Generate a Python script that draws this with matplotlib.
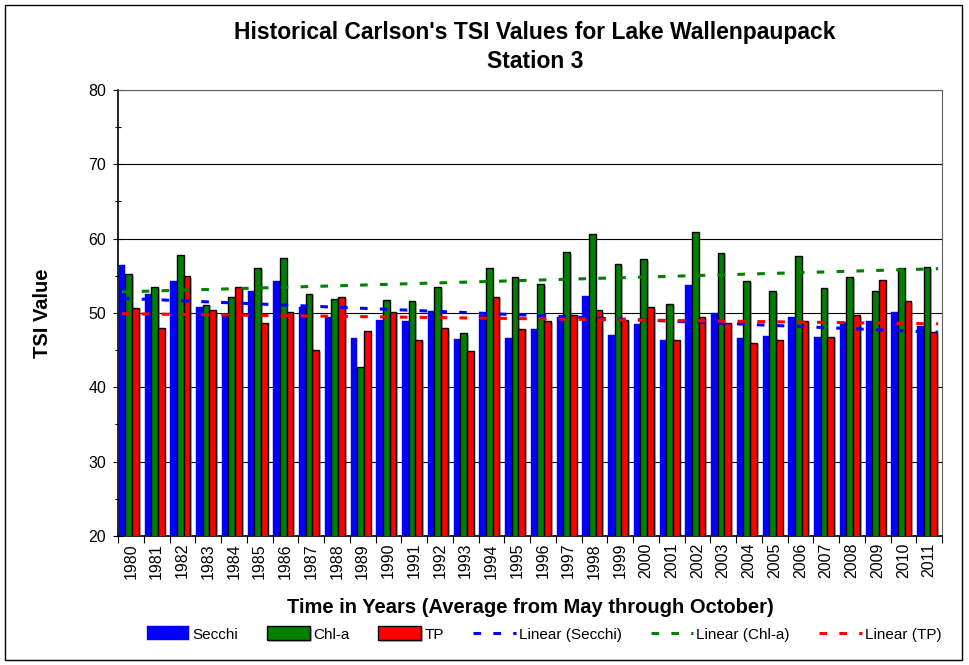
import numpy as np
import matplotlib
matplotlib.use("Agg")
import matplotlib.pyplot as plt
from matplotlib.ticker import MultipleLocator
from matplotlib.patches import Rectangle
import matplotlib.patheffects as pe

plt.rcParams['font.family'] = ['Liberation Sans', 'DejaVu Sans']

years = list(range(1980, 2012))
secchi = [56.4, 52.6, 54.3, 50.8, 49.6, 52.9, 54.3, 50.8, 49.4, 46.6, 49.0, 48.9, 50.3, 46.5, 49.7, 46.7,
          47.9, 49.4, 52.3, 47.1, 48.5, 46.4, 53.8, 50.0, 46.7, 46.9, 49.4, 46.8, 48.8, 48.9, 50.2, 48.3]
chla = [55.2, 53.5, 57.8, 51.1, 52.2, 56.1, 57.4, 52.6, 51.9, 42.8, 51.8, 51.6, 53.5, 47.3, 56.1, 54.9,
        53.9, 58.2, 60.6, 56.6, 57.2, 51.2, 60.9, 58.1, 54.3, 52.9, 57.7, 53.4, 54.8, 52.9, 56.1, 56.2]
tp = [50.7, 48.0, 55.0, 50.4, 53.5, 48.7, 50.2, 45.0, 52.1, 47.6, 50.1, 46.4, 48.0, 44.9, 52.2, 47.9,
      48.9, 49.7, 50.4, 49.0, 50.8, 46.4, 49.4, 48.7, 46.0, 46.4, 48.9, 46.8, 49.7, 54.5, 51.6, 47.4]

fig = plt.figure(figsize=(9.69, 6.65), dpi=100)
ax = fig.add_axes([118 / 969, 1 - 536 / 665, 824 / 969, 446 / 665])

x = np.arange(len(years))
w = 0.26
shadow = [pe.SimplePatchShadow(offset=(1.2, -1.2), shadow_rgbFace='gray', alpha=0.5), pe.Normal()]
ax.bar(x - w - 0.08, secchi, w, color='#0000ff', edgecolor='#0000ff', lw=0.3, zorder=3, label='Secchi')
ax.bar(x - 0.08, chla, w, color='#008000', edgecolor='black', lw=1.0, zorder=3, label='Chl-a',
       path_effects=shadow)
ax.bar(x + w - 0.08, tp, w, color='#ff0000', edgecolor='black', lw=1.0, zorder=3, label='TP',
       path_effects=shadow)

# linear trendlines fitted on category index
xt = np.array([-0.35, len(years) - 0.65])
for vals, col, lab in [(secchi, '#0000ff', 'Linear (Secchi)'),
                       (chla, '#008000', 'Linear (Chl-a)'),
                       (tp, '#ff0000', 'Linear (TP)')]:
    k, b = np.polyfit(x, vals, 1)
    ax.plot(xt, k * xt + b, color=col, lw=2.2, ls=(0, (2.5, 4)), zorder=4, label=lab)

ax.set_ylim(20, 80)
ax.set_xlim(-0.5, len(years) - 0.5)
ax.yaxis.set_major_locator(MultipleLocator(10))
ax.yaxis.set_minor_locator(MultipleLocator(5))
ax.grid(axis='y', which='major', color='black', lw=0.8, zorder=0)
ax.tick_params(axis='y', which='both', direction='inout', length=7, width=0.8, labelsize=11.5, pad=5)
ax.tick_params(axis='y', which='minor', length=5)

ax.set_xticks(x)
ax.set_xticklabels([str(y) for y in years], rotation=90, fontsize=11.5)
ax.set_xticks(np.arange(-0.5, len(years)), minor=True)
ax.tick_params(axis='x', which='major', length=0, pad=5)
ax.tick_params(axis='x', which='minor', direction='out', length=5, width=0.8)

for s in ['top', 'right']:
    ax.spines[s].set_linewidth(0.8)
    ax.spines[s].set_color('#606060')
for s in ['left', 'bottom']:
    ax.spines[s].set_linewidth(1.2)

ax.set_ylabel('TSI Value', fontsize=14.5, fontweight='bold', labelpad=26)
ax.set_xlabel('Time in Years (Average from May through October)', fontsize=14.5, fontweight='bold', labelpad=14)

fig.text(535 / 969, 1 - 32 / 665, "Historical Carlson's TSI Values for Lake Wallenpaupack",
         ha='center', va='center', fontsize=16.5, fontweight='bold')
fig.text(535 / 969, 1 - 61 / 665, "Station 3", ha='center', va='center', fontsize=16.5, fontweight='bold')

h, l = ax.get_legend_handles_labels()
order = [3, 4, 5, 0, 1, 2]
fig.legend([h[i] for i in order], [l[i] for i in order], loc='center', bbox_to_anchor=(544 / 969, 1 - 634 / 665),
           ncol=6, frameon=False, fontsize=11, handlelength=2.8, handleheight=1.0, columnspacing=1.9,
           handletextpad=0.2)

fig.patches.append(Rectangle((5 / 969, 5 / 665), 957 / 969, 655 / 665, transform=fig.transFigure,
                             fill=False, edgecolor='black', lw=1))

fig.savefig('out.png', dpi=100)
